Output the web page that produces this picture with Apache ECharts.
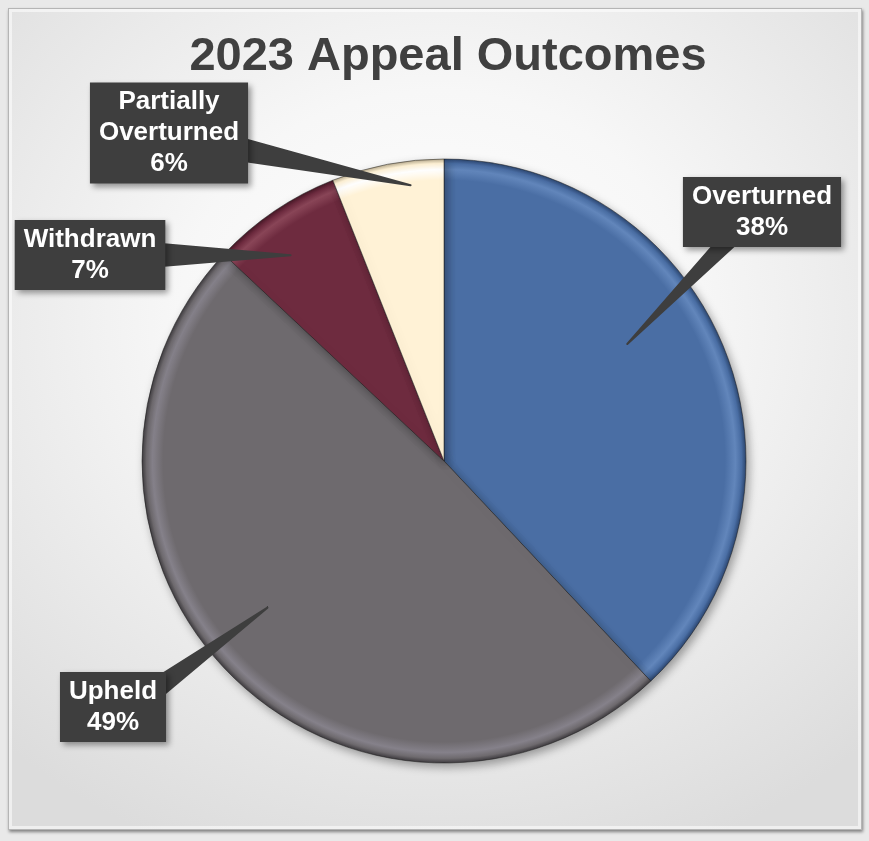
<!DOCTYPE html>
<html>
<head>
<meta charset="utf-8">
<script src="https://cdn.jsdelivr.net/npm/echarts@6/dist/echarts.min.js"></script>
<style>
  html, body { margin: 0; padding: 0; width: 869px; height: 841px; overflow: hidden; background: #e9e9e9; }
  #frame {
    position: absolute; left: 8px; top: 8px; width: 852px; height: 820px;
    border: 1px solid #b5b5b5;
    background: radial-gradient(ellipse 75% 70% at 50% 38%, #ffffff 0%, #f7f7f7 40%, #dcdcdc 100%);
    box-shadow: 1px 2px 3px rgba(0,0,0,0.45), inset 0 0 0 3px rgba(255,255,255,0.55);
  }
  #chart { position: absolute; left: 0; top: 0; width: 869px; height: 841px; }
</style>
</head>
<body>
<div id="frame"></div>
<div id="chart"></div>
<script>
// Appeal outcomes for 2023, percent of all appeals
const categories = ['Overturned', 'Upheld', 'Withdrawn', 'Partially Overturned'];
const shares = [38, 49, 7, 6];
const labelNames = ['Overturned', 'Upheld', 'Withdrawn', 'Partially\nOverturned'];
const sliceColors = ['#4a6ea4', '#6e6a6e', '#6e2b3f', '#fff2d6'];
const rimLight = ['#6286bb', '#85818a', '#8a4658', '#ffffff'];
const rimDark = ['#2c4670', '#3e3b3f', '#451826', '#b8ab8e'];

// Pie geometry
const CX = 444, CY = 461, R = 302;

// Callout box centres, and where each pointer lands inside its slice
// (along = fraction of the slice's sweep, depth = fraction of the radius)
const calloutAt = {
  'Overturned': { box: [762, 212], along: 0.42, depth: 0.72 },
  'Upheld': { box: [113, 707], along: 0.53, depth: 0.76 },
  'Withdrawn': { box: [90, 255], along: 0.40, depth: 0.85 },
  'Partially Overturned': { box: [169, 133], along: 0.68, depth: 0.92 }
};

// Slice fill with a bevelled rim
function sliceFill(i) {
  return {
    type: 'radial', x: CX, y: CY, r: R, global: true,
    colorStops: [
      { offset: 0, color: sliceColors[i] },
      { offset: 0.93, color: sliceColors[i] },
      { offset: 0.965, color: rimLight[i] },
      { offset: 0.985, color: sliceColors[i] },
      { offset: 1, color: rimDark[i] }
    ]
  };
}

// Place the callout box and build a filled wedge pointer from the box into its slice
function callout(params) {
  const idx = params.dataIndex;
  const cfg = calloutAt[categories[idx]];
  const c = cfg.box;
  const total = shares.reduce((a, b) => a + b, 0);
  let before = 0;
  for (let i = 0; i < idx; i++) before += shares[i];
  const ang = (before + shares[idx] * cfg.along) / total * 2 * Math.PI;
  const tip = [CX + cfg.depth * R * Math.sin(ang), CY - cfg.depth * R * Math.cos(ang)];

  const w = params.labelRect.width, h = params.labelRect.height;
  const dx = tip[0] - c[0], dy = tip[1] - c[1];
  const sx = (w / 2) / Math.max(Math.abs(dx), 1e-6);
  const sy = (h / 2) / Math.max(Math.abs(dy), 1e-6);
  const s = Math.min(sx, sy);
  let base = [c[0] + dx * s, c[1] + dy * s];
  const alongX = sx >= sy; // base lies on top/bottom edge
  const half = 11, inset = 4;
  if (alongX) {
    base[0] = Math.max(c[0] - w / 2 + half + 2, Math.min(c[0] + w / 2 - half - 2, base[0]));
    base[1] -= Math.sign(dy) * inset;
  } else {
    base[1] = Math.max(c[1] - h / 2 + half + 2, Math.min(c[1] + h / 2 - half - 2, base[1]));
    base[0] -= Math.sign(dx) * inset;
  }
  const pts = [];
  const N = 30;
  for (let k = 0; k <= N; k++) {
    const t = -half + 2 * half * k / N;
    pts.push(alongX ? [base[0] + t, base[1]] : [base[0], base[1] + t]);
    pts.push(tip.slice());
  }
  return { x: c[0], y: c[1], align: 'center', verticalAlign: 'middle', labelLinePoints: pts };
}

const pieData = categories.map((name, i) => ({ name: name, value: shares[i] }));

const chart = echarts.init(document.getElementById('chart'), null, { renderer: 'canvas' });
chart.setOption({
  animation: false,
  title: {
    text: '2023 Appeal Outcomes',
    left: 443, top: 29, textAlign: 'center',
    textStyle: { fontFamily: 'Liberation Sans, Arial, sans-serif', fontSize: 47, fontWeight: 'bold', color: '#404040' }
  },
  series: [
    {
      // the slices
      type: 'pie',
      z: 2,
      center: [CX, CY],
      radius: R,
      startAngle: 90,
      clockwise: true,
      silent: true,
      data: pieData.map((d, i) => Object.assign({}, d, { itemStyle: { color: sliceFill(i) } })),
      itemStyle: {
        borderColor: 'rgba(25,25,25,0.5)',
        borderWidth: 1,
        shadowBlur: 10,
        shadowOffsetX: 3,
        shadowOffsetY: 4,
        shadowColor: 'rgba(0,0,0,0.35)'
      },
      label: { show: false },
      labelLine: { show: false }
    },
    {
      // callouts drawn above every slice
      type: 'pie',
      z: 6,
      zlevel: 1,
      center: [CX, CY],
      radius: R,
      startAngle: 90,
      clockwise: true,
      silent: true,
      avoidLabelOverlap: false,
      data: pieData,
      itemStyle: { color: 'rgba(0,0,0,0)' },
      label: {
        show: true,
        position: 'outside',
        formatter: p => labelNames[p.dataIndex] + '\n' + p.value + '%',
        color: '#ffffff',
        fontFamily: 'Liberation Sans, Arial, sans-serif',
        fontWeight: 'bold',
        fontSize: 26,
        lineHeight: 31,
        backgroundColor: '#3e3e3e',
        padding: [4, 9],
        shadowBlur: 6,
        shadowOffsetX: 3,
        shadowOffsetY: 3,
        shadowColor: 'rgba(0,0,0,0.4)'
      },
      labelLine: {
        show: true,
        length: 10,
        length2: 10,
        smooth: false,
        lineStyle: { color: '#3e3e3e', width: 2, join: 'round', cap: 'round' }
      },
      labelLayout: callout
    }
  ]
});
</script>
</body>
</html>
